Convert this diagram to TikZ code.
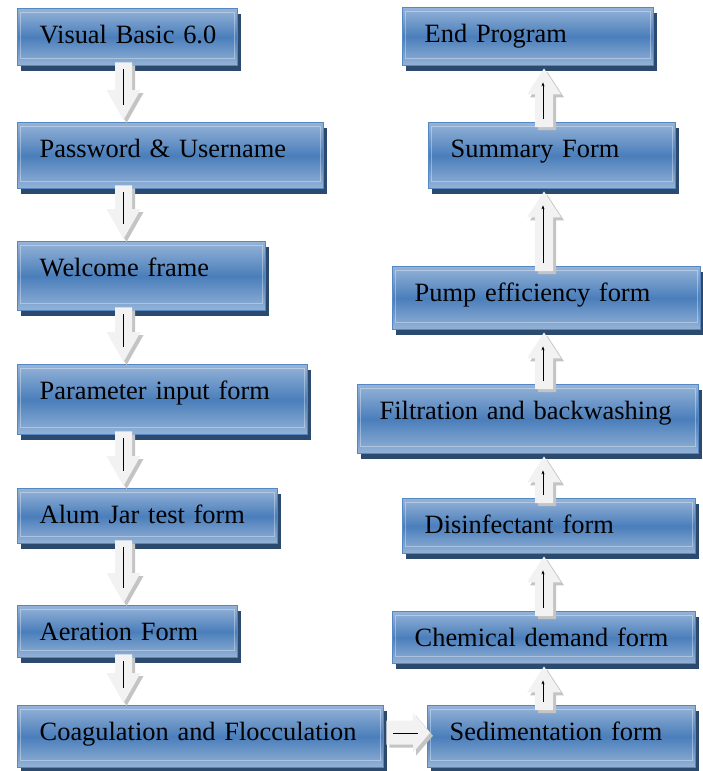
\documentclass[tikz,border=0pt]{standalone}
\usepackage{fontspec}
\setmainfont{Liberation Serif}
\usetikzlibrary{shadows,calc,arrows.meta}
\definecolor{boxlight}{HTML}{95B3D7}
\definecolor{boxmid}{HTML}{4A7EBB}
\definecolor{boxborder}{HTML}{5587C4}
\definecolor{boxshadow}{HTML}{2C4A6E}
\definecolor{arrfill}{HTML}{F2F2F2}
\definecolor{arrshade}{HTML}{C4C4C4}
\tikzset{
  box/.style={draw=boxborder, line width=1.4pt, top color=boxlight, bottom color=boxlight, middle color=boxmid,
    general shadow={fill=boxshadow, shadow xshift=3pt, shadow yshift=-5pt},
    anchor=north west, inner xsep=0pt, inner ysep=0pt, text height=35pt, align=left,
    execute at begin node={\hspace*{22pt}},
    font=\fontsize{26.4}{30}\selectfont, text=black,
    path picture={\draw[white, opacity=0.35, line width=0.7pt]
      ([shift={(3pt,-4pt)}]path picture bounding box.north west) rectangle
      ([shift={(-3pt,7pt)}]path picture bounding box.south east);}},
  blockarrow/.style={fill=arrfill, draw=none,
    general shadow={fill=arrshade, shadow xshift=3pt, shadow yshift=-3pt}},
  innerline/.style={draw=black, line width=0.9pt},
}
\newcommand\dnarrow[2]{%
  \path[blockarrow] let \p1=(#1.south), \p2=(#2.north) in
    (115pt,\y1+4pt) -- (132pt,\y1+4pt) -- (132pt,\y2+32pt) -- (140.5pt,\y2+32pt)
    -- (123.5pt,\y2+2pt) -- (106.5pt,\y2+32pt) -- (115pt,\y2+32pt) -- cycle;
  \draw[innerline] let \p1=(#1.south), \p2=(#2.north) in (123pt,\y1-3pt) -- (123pt,\y2+17pt);
}
\newcommand\uparr[2]{%
  \path[blockarrow] let \p1=(#1.north), \p2=(#2.south) in
    (535pt,\y1-5pt) -- (553pt,\y1-5pt) -- (553pt,\y2-28pt) -- (561pt,\y2-28pt)
    -- (544pt,\y2-2pt) -- (527pt,\y2-28pt) -- (535pt,\y2-28pt) -- cycle;
  \draw[innerline, -{Stealth[length=4pt,width=3pt]}] let \p1=(#1.north), \p2=(#2.south) in
    (543pt,\y1+3pt) -- (543pt,\y2-16pt);
}
\begin{document}
\begin{tikzpicture}[x=1pt,y=1pt]
\useasboundingbox (0,0) rectangle (702,-771);
% left column
\node[box, text width=220pt, text depth=22pt] (vb) at (17,-8) {Visual Basic 6.0};
\node[box, text width=306pt, text depth=31pt] (pw) at (17,-122) {Password \& Username};
\node[box, text width=248pt, text depth=34pt] (wf) at (17,-241) {Welcome frame};
\node[box, text width=290pt, text depth=35pt] (pi) at (17,-364) {Parameter input form};
\node[box, text width=260pt, text depth=20pt] (aj) at (17,-488) {Alum Jar test form};
\node[box, text width=220pt, text depth=17pt] (ae) at (17,-605) {Aeration Form};
\node[box, text width=366pt, text depth=27pt] (cf) at (17,-705) {Coagulation and Flocculation};
% right column
\node[box, text width=251pt, text depth=23pt] (ep) at (402,-7) {End Program};
\node[box, text width=247pt, text depth=31pt] (sf) at (428,-122) {Summary Form};
\node[box, text width=308pt, text depth=28pt] (pe) at (392,-266) {Pump efficiency form};
\node[box, text width=341pt, text depth=34pt] (fb) at (357,-384) {Filtration and backwashing};
\node[box, text width=293pt, text depth=20pt] (df) at (402,-498) {Disinfectant form};
\node[box, text width=303pt, text depth=17pt] (cd) at (392,-611) {Chemical demand form};
\node[box, text width=268pt, text depth=27pt] (sd) at (427,-705) {Sedimentation form};
% down arrows
\dnarrow{vb}{pw}
\dnarrow{pw}{wf}
\dnarrow{wf}{pi}
\dnarrow{pi}{aj}
\dnarrow{aj}{ae}
\dnarrow{ae}{cf}
% right arrow
\path[blockarrow] let \p1=(cf.east), \p2=(sd.west) in
  (\x1+2pt,\y1+16pt) -- (\x2-14pt,\y1+16pt) -- (\x2-14pt,\y1+24pt) -- (\x2+3pt,\y1+4pt)
  -- (\x2-14pt,\y1-16pt) -- (\x2-14pt,\y1-8pt) -- (\x1+2pt,\y1-8pt) -- cycle;
\draw[innerline] let \p1=(cf.east), \p2=(sd.west) in (\x1+9pt,\y1+3pt) -- (\x2-9pt,\y1+3pt);
% up arrows
\uparr{sd}{cd}
\uparr{cd}{df}
\uparr{df}{fb}
\uparr{fb}{pe}
\uparr{pe}{sf}
\uparr{sf}{ep}
\end{tikzpicture}
\end{document}
